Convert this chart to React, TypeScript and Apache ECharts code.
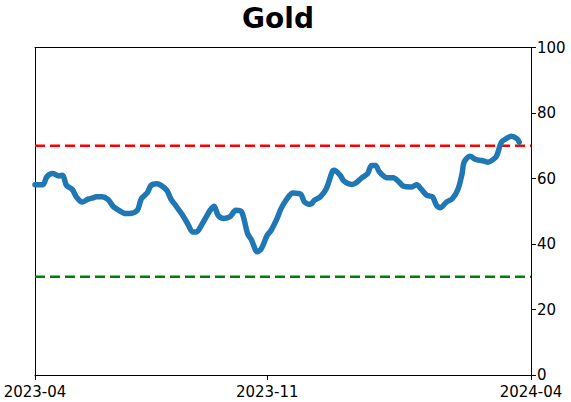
import React, { useEffect, useRef } from "react";
import * as echarts from "echarts";

// trading-day index along the x axis
const xMax = 252;
const tickPositions = [0, 118, 252];
const tickLabels = ["2023-04", "2023-11", "2024-04"];

const seriesIdx = [
  0, 4, 6, 9, 12, 14, 16, 19, 21, 24, 27, 30, 31, 34, 37, 40, 42, 46, 48, 52,
  54, 57, 59, 62, 64, 67, 69, 72, 75, 78, 80, 82, 85, 87, 89, 91, 93, 96, 99,
  102, 105, 108, 110, 113, 115, 118, 120, 123, 125, 128, 131, 135, 137, 140,
  142, 145, 148, 151, 152, 155, 157, 161, 163, 166, 169, 171, 173, 175, 179,
  182, 185, 187, 191, 194, 196, 199, 202, 204, 206, 209, 212, 215, 217, 218,
  221, 224, 227, 230, 234, 235, 237, 240, 242, 245, 246,
];
const seriesVal = [
  58.1, 58.1, 60.5, 61.5, 60.8, 61, 57.9, 56.6, 54.4, 52.8, 53.7, 54.2, 54.4,
  54.4, 53.6, 51.3, 50.5, 49.3, 49.3, 50.3, 53.8, 55.6, 57.9, 58.4, 57.9, 56.4,
  53.8, 51.3, 48.8, 45.7, 43.7, 43.7, 46.2, 48.3, 50.3, 51.5, 48.8, 47.8, 48.3,
  50.3, 49.8, 43.2, 41.2, 37.6, 38.6, 42.7, 44.2, 47.8, 50.8, 53.8, 55.6, 55.2,
  52.8, 52.1, 53.4, 54.4, 56.9, 62, 62.5, 61, 59.2, 58.2, 58.6, 60.2, 61.5, 64,
  64, 62, 60.2, 60.2, 58.9, 57.7, 57.4, 58.1, 56.9, 54.9, 54.4, 51.8, 51.1,
  52.8, 53.8, 56.9, 61.5, 65, 66.8, 65.8, 65.5, 65, 66.4, 67.6, 71.1, 72.4,
  72.9, 72.1, 71.1,
];
const upperThreshold = 70;
const lowerThreshold = 30;

const FONT = "DejaVu Sans";
const spine = { show: true, onZero: false, lineStyle: { color: "#000", width: 1 } };

export default function App() {
  const ref = useRef<HTMLDivElement>(null);
  useEffect(() => {
    if (!ref.current) return;
    const chart = echarts.init(ref.current, undefined, { renderer: "svg" });
    const lineData = seriesIdx.map((x, i) => [x, seriesVal[i]]);
    chart.setOption({
      animation: false,
      title: {
        text: "Gold",
        left: 273,
        top: -1,
        textAlign: "center",
        textStyle: { fontFamily: FONT, fontSize: 28, fontWeight: "bold", color: "#000" },
      },
      grid: {
        left: 35,
        right: 40,
        top: 47.5,
        bottom: 27,
      },
      xAxis: [
        {
          type: "value",
          min: 0,
          max: xMax,
          position: "bottom",
          splitLine: { show: false },
          axisLine: spine,
          axisTick: {
            show: true,
            inside: false,
            length: 5,
            customValues: tickPositions,
            lineStyle: { color: "#000" },
          },
          axisLabel: {
            show: true,
            customValues: tickPositions,
            formatter: (v: number) => {
              const i = tickPositions.indexOf(Math.round(v));
              return i >= 0 ? tickLabels[i] : "";
            },
            fontFamily: FONT,
            fontSize: 15,
            color: "#000",
            margin: 9,
            showMinLabel: true,
            showMaxLabel: true,
          },
        },
        {
          type: "value",
          min: 0,
          max: xMax,
          position: "top",
          splitLine: { show: false },
          axisLine: spine,
          axisTick: { show: false },
          axisLabel: { show: false },
        },
      ],
      yAxis: [
        {
          type: "value",
          position: "right",
          min: 0,
          max: 100,
          interval: 20,
          splitLine: { show: false },
          axisLine: spine,
          axisTick: { show: true, inside: false, length: 5, lineStyle: { color: "#000" } },
          axisLabel: {
            fontFamily: FONT,
            fontSize: 15,
            color: "#000",
            margin: 6,
          },
        },
        {
          type: "value",
          position: "left",
          min: 0,
          max: 100,
          interval: 20,
          splitLine: { show: false },
          axisLine: spine,
          axisTick: { show: false },
          axisLabel: { show: false },
        },
      ],
      series: [
        {
          type: "line",
          data: [
            [0, upperThreshold],
            [xMax, upperThreshold],
          ],
          showSymbol: false,
          lineStyle: { color: "#ff0000", width: 2.5, type: [10, 5] },
          z: 1,
          silent: true,
        },
        {
          type: "line",
          data: [
            [0, lowerThreshold],
            [xMax, lowerThreshold],
          ],
          showSymbol: false,
          lineStyle: { color: "#008000", width: 2.5, type: [10, 5] },
          z: 1,
          silent: true,
        },
        {
          type: "line",
          data: lineData,
          showSymbol: false,
          smooth: 0.3,
          lineStyle: { color: "#1f77b4", width: 5.5, cap: "round", join: "round" },
          z: 3,
        },
      ],
    });
    return () => chart.dispose();
  }, []);
  return (
    <div
      ref={ref}
      style={{ position: "absolute", left: 0, top: 0, width: 571, height: 402 }}
    />
  );
}
